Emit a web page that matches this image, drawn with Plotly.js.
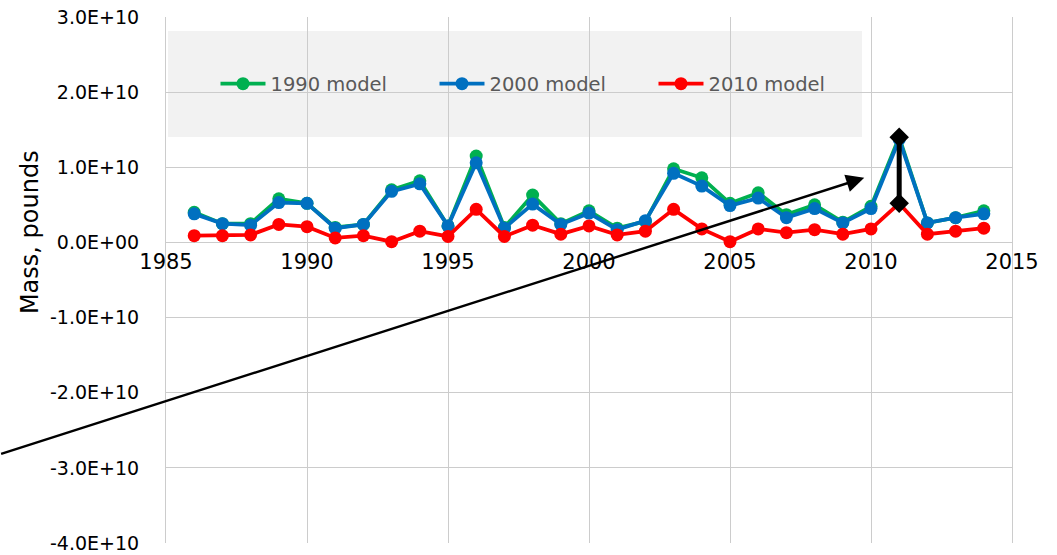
<!DOCTYPE html>
<html>
<head>
<meta charset="utf-8">
<script src="https://cdn.plot.ly/plotly-3.0.1.min.js"></script>
<style>html,body{margin:0;padding:0;background:#fff;}#chart{width:1057px;height:555px;}</style>
</head>
<body>
<div id="chart"></div>
<script>
// ---- data (values in pounds) ----
const years = [1986,1987,1988,1989,1990,1991,1992,1993,1994,1995,1996,1997,1998,1999,2000,
               2001,2002,2003,2004,2005,2006,2007,2008,2009,2010,2011,2012,2013,2014];
const model1990 = [4.0,2.5,2.5,5.8,5.2,2.0,2.4,7.0,8.2,2.2,11.5,2.0,6.3,2.5,4.2,
                   1.9,2.8,9.8,8.6,5.2,6.6,3.7,5.0,2.7,4.8,14.0,2.6,3.3,4.2].map(v => v*1e9);
const model2000 = [3.8,2.5,2.3,5.3,5.2,1.9,2.4,6.8,7.8,2.2,10.6,1.9,5.1,2.4,3.9,
                   1.7,2.9,9.2,7.5,4.9,5.9,3.3,4.5,2.6,4.5,13.7,2.6,3.3,3.8].map(v => v*1e9);
const model2010 = [0.9,0.9,1.0,2.4,2.1,0.6,0.9,0.1,1.5,0.8,4.4,0.8,2.3,1.1,2.2,
                   1.0,1.5,4.4,1.8,0.1,1.8,1.3,1.7,1.1,1.8,5.2,1.1,1.5,1.9].map(v => v*1e9);
const seriesNames = ['1990 model','2000 model','2010 model'];
const yTickVals = [3e10,2e10,1e10,0,-1e10,-2e10,-3e10,-4e10];
const yTickText = ['3.0E+10','2.0E+10','1.0E+10','0.0E+00','-1.0E+10','-2.0E+10','-3.0E+10','-4.0E+10'];
const xTickVals = [1985,1990,1995,2000,2005,2010,2015];
const yTitle = 'Mass, pounds';
// range bar year (2011 spread between models)
const spreadYear = 2011;
// arrow annotation: tail and head in data units
const arrowTail = [1979.1, -2.82e10];
const arrowHead = [2009.76, 0.86e10];

const FONT = 'DejaVu Sans, Verdana, sans-serif';
const colors = ['#00b050','#0070c0','#ff0000'];
const series = [model1990, model2000, model2010];

const traces = series.map((s, i) => ({
  x: years, y: s, name: seriesNames[i], type: 'scatter', mode: 'lines+markers',
  line: {color: colors[i], width: 3.8},
  marker: {color: colors[i], size: 13},
  cliponaxis: false
}));

const si = years.indexOf(spreadYear);
traces.push({
  x: [spreadYear, spreadYear], y: [model2010[si], model1990[si]],
  type: 'scatter', mode: 'lines+markers', showlegend: false,
  line: {color: '#000', width: 5},
  marker: {color: '#000', size: 15, symbol: 'diamond'},
  cliponaxis: false
});

const grid = '#cccccc';
const layout = {
  width: 1057, height: 555,
  margin: {l: 166, r: 45, t: 17, b: 12},
  paper_bgcolor: '#fff', plot_bgcolor: '#fff',
  font: {family: FONT, size: 19, color: '#000'},
  showlegend: true,
  legend: {
    orientation: 'h', x: 0.0585, y: 0.8726, xanchor: 'left', yanchor: 'middle',
    bgcolor: 'rgba(0,0,0,0)', font: {family: FONT, size: 19.5, color: '#595959'},
    itemwidth: 45, entrywidth: 159, traceorder: 'normal'
  },
  xaxis: {
    range: [1985, 2015], tickvals: xTickVals, ticktext: xTickVals.map(String),
    showgrid: true, gridcolor: grid, gridwidth: 1,
    zeroline: false, showline: false, ticks: '',
    anchor: 'free', position: 0.5722, ticklabelstandoff: 5,
    tickfont: {family: FONT, size: 21, color: '#000'}
  },
  yaxis: {
    range: [-4e10, 3e10], tickvals: yTickVals, ticktext: yTickText,
    showgrid: true, gridcolor: grid, gridwidth: 1,
    zeroline: true, zerolinecolor: grid, zerolinewidth: 1,
    showline: true, linecolor: grid, mirror: true, linewidth: 1,
    ticks: '', ticklabelstandoff: 22,
    tickfont: {family: FONT, size: 19, color: '#000'}
  },
  shapes: [{
    type: 'rect', xref: 'paper', yref: 'paper', layer: 'below',
    x0: 0.0024, x1: 0.8227, y0: 0.7719, y1: 0.9734,
    fillcolor: '#f2f2f2', line: {width: 0}
  }],
  annotations: [{
    x: arrowHead[0], y: arrowHead[1], xref: 'x', yref: 'y',
    ax: arrowTail[0], ay: arrowTail[1], axref: 'x', ayref: 'y',
    showarrow: true, arrowhead: 2, arrowsize: 1.5, arrowwidth: 2.4, arrowcolor: '#000',
    text: ''
  }, {
    x: -0.1608, y: 0.591, xref: 'paper', yref: 'paper', xanchor: 'center', yanchor: 'middle',
    textangle: -90, showarrow: false, text: yTitle,
    font: {family: FONT, size: 24, color: '#000'}
  }]
};

Plotly.newPlot('chart', traces, layout, {displayModeBar: false, staticPlot: true});
</script>
</body>
</html>
